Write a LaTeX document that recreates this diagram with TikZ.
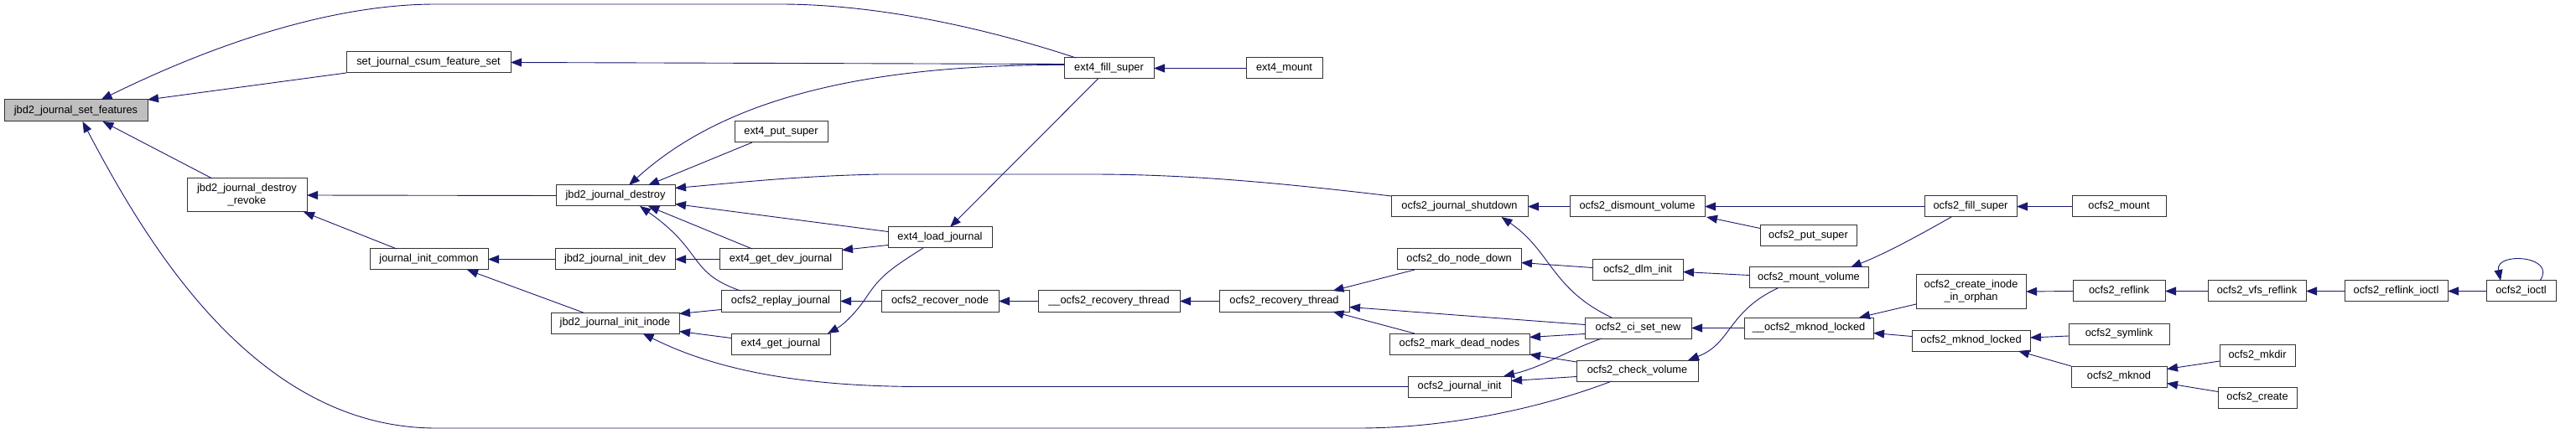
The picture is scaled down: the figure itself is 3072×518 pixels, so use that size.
\documentclass[tikz,border=0pt]{standalone}
\usepackage{fontspec}
\setmainfont{Liberation Sans}
\usetikzlibrary{arrows.meta,calc}
\definecolor{edgec}{HTML}{191970}
\definecolor{nodeborder}{HTML}{333333}
\definecolor{mainfill}{HTML}{BFBFBF}
\tikzset{
  fbox/.style={draw=nodeborder, line width=1pt, fill=white, inner sep=0pt, outer sep=0pt,
    align=center, font=\fontsize{12.8}{15}\selectfont, minimum height=25pt},
  callarrow/.style={draw=edgec, line width=0.9pt, -{Triangle[length=13pt,width=10pt]}}
}
\begin{document}
\begin{tikzpicture}[x=1pt,y=-1pt]
\useasboundingbox (0,0) rectangle (3072,518);
% nodes
\node[fbox, fill=mainfill, minimum width=171pt, minimum height=26pt] (sf) at (90.5,132) {jbd2\_journal\_set\_features};
\node[fbox, minimum width=196pt] (csum) at (511,74.5) {set\_journal\_csum\_feature\_set};
\node[fbox, minimum width=143pt, minimum height=40pt] (rev) at (294.5,233) {jbd2\_journal\_destroy\\\_revoke};
\node[fbox, minimum width=141pt] (jic) at (511.5,309.5) {journal\_init\_common};
\node[fbox, minimum width=142pt] (jd) at (734,233.5) {jbd2\_journal\_destroy};
\node[fbox, minimum width=111pt] (eps) at (931.5,157.5) {ext4\_put\_super};
\node[fbox, minimum width=143pt] (jid) at (733.5,309.5) {jbd2\_journal\_init\_dev};
\node[fbox, minimum width=146pt] (egdj) at (931,309.5) {ext4\_get\_dev\_journal};
\node[fbox, minimum width=142pt] (orj) at (931,359.5) {ocfs2\_replay\_journal};
\node[fbox, minimum width=153pt] (jii) at (733.5,385.5) {jbd2\_journal\_init\_inode};
\node[fbox, minimum width=118pt] (egj) at (931,410.5) {ext4\_get\_journal};
\node[fbox, minimum width=107pt] (efs) at (1322.5,81.5) {ext4\_fill\_super};
\node[fbox, minimum width=91pt] (em) at (1531.5,81.5) {ext4\_mount};
\node[fbox, minimum width=124pt] (elj) at (1121,283.5) {ext4\_load\_journal};
\node[fbox, minimum width=140pt] (orn) at (1121,359.5) {ocfs2\_recover\_node};
\node[fbox, minimum width=169pt] (uort) at (1322.5,359.5) {\_\_ocfs2\_recovery\_thread};
\node[fbox, minimum width=155pt] (ort) at (1531.5,359.5) {ocfs2\_recovery\_thread};
\node[fbox, minimum width=163pt] (ojs) at (1740.5,246.5) {ocfs2\_journal\_shutdown};
\node[fbox, minimum width=161pt] (odv) at (1952.5,246.5) {ocfs2\_dismount\_volume};
\node[fbox, minimum width=148pt] (odnd) at (1740,309.5) {ocfs2\_do\_node\_down};
\node[fbox, minimum width=108pt] (odi) at (1953,322.5) {ocfs2\_dlm\_init};
\node[fbox, minimum width=127pt] (ocsn) at (1953.5,391.5) {ocfs2\_ci\_set\_new};
\node[fbox, minimum width=167pt] (omdn) at (1740.5,410.5) {ocfs2\_mark\_dead\_nodes};
\node[fbox, minimum width=145pt] (ocv) at (1952.5,442.5) {ocfs2\_check\_volume};
\node[fbox, minimum width=123pt] (oji) at (1740.5,461.5) {ocfs2\_journal\_init};
\node[fbox, minimum width=115pt] (ops) at (2156.5,281) {ocfs2\_put\_super};
\node[fbox, minimum width=142pt] (omv) at (2157,331.5) {ocfs2\_mount\_volume};
\node[fbox, minimum width=154pt] (uoml) at (2157,391.5) {\_\_ocfs2\_mknod\_locked};
\node[fbox, minimum width=110pt] (ofs) at (2350,246.5) {ocfs2\_fill\_super};
\node[fbox, minimum width=131pt, minimum height=40pt] (ocio) at (2350.5,348) {ocfs2\_create\_inode\\\_in\_orphan};
\node[fbox, minimum width=141pt] (oml) at (2350.5,406.5) {ocfs2\_mknod\_locked};
\node[fbox, minimum width=112pt] (om) at (2527,246.5) {ocfs2\_mount};
\node[fbox, minimum width=110pt] (orl) at (2527,347.5) {ocfs2\_reflink};
\node[fbox, minimum width=120pt] (osl) at (2527,398.5) {ocfs2\_symlink};
\node[fbox, minimum width=114pt] (omk) at (2527,449.5) {ocfs2\_mknod};
\node[fbox, minimum width=117pt] (ovr) at (2691.5,347.5) {ocfs2\_vfs\_reflink};
\node[fbox, minimum width=123pt] (ori) at (2857.5,347.5) {ocfs2\_reflink\_ioctl};
\node[fbox, minimum width=83pt] (oio) at (3006.5,347.5) {ocfs2\_ioctl};
\node[fbox, minimum width=90pt, minimum height=26pt] (omd) at (2692,424) {ocfs2\_mkdir};
\node[fbox, minimum width=94pt] (ocr) at (2692,474.5) {ocfs2\_create};
% edges (caller -> callee, arrow at callee)
\draw[callarrow] ($(efs.north west)+(14,0)$) .. controls (1180,35) and (1050,5) .. (930,5) -- (520,5) .. controls (380,5) and (230,65) .. ($(sf.north)+(30,0)$);
\draw[callarrow] (csum.south west) -- (sf.north east);
\draw[callarrow] ($(rev.north west)+(30,0)$) -- ($(sf.south)+(32,0)$);
\draw[callarrow] ($(ocv.south west)+(42,0)$) .. controls (1830,490) and (1720,511) .. (1620,511) -- (520,511) .. controls (300,511) and (170,280) .. ($(sf.south)+(8,0)$);
\draw[callarrow] ($(efs.west)+(0,-5)$) -- (csum.east);
\draw[callarrow] (jd.west) -- (rev.east);
\draw[callarrow] ($(jic.north west)+(32,0)$) -- ($(rev.south east)+(-4,0)$);
\draw[callarrow] (jid.west) -- (jic.east);
\draw[callarrow] ($(jii.north)+(-38,0)$) -- ($(jic.south west)+(116,0)$);
\draw[callarrow] ($(efs.west)+(0,-4)$) .. controls (1000,77) and (850,130) .. ($(jd.north)+(16,0)$);
\draw[callarrow] ($(eps.south west)+(21,0)$) -- ($(jd.north)+(39,0)$);
\draw[callarrow] (ojs.north west) .. controls (1500,215) and (1400,208) .. (1300,208) -- (1050,208) .. controls (950,210) and (880,218) .. ($(jd.east)+(0,-9)$);
\draw[callarrow] ($(elj.west)+(0,-7)$) -- ($(jd.east)+(0,10)$);
\draw[callarrow] ($(egdj.north west)+(39,0)$) -- ($(jd.south)+(39,0)$);
\draw[callarrow] ($(orj.north west)+(23,0)$) .. controls (820,325) and (840,300) .. ($(jd.south)+(29,0)$);
\draw[callarrow] (egdj.west) -- (jid.east);
\draw[callarrow] ($(orj.west)+(0,10)$) -- ($(jii.east)+(0,-11)$);
\draw[callarrow] ($(egj.west)+(0,-7)$) -- ($(jii.east)+(0,10)$);
\draw[callarrow] (oji.west) -- (1100,461.5) .. controls (950,461.5) and (850,440) .. ($(jii.south)+(33,0)$);
\draw[callarrow] ($(elj.west)+(0,9)$) -- ($(egdj.east)+(0,-11)$);
\draw[callarrow] ($(elj.south west)+(42,0)$) .. controls (1060,322) and (1050,330) .. (1035,352) .. controls (1020,375) and (1005,388) .. ($(egj.north east)+(-3,0)$);
\draw[callarrow] (orn.west) -- (orj.east);
\draw[callarrow] ($(efs.south)+(-13,0)$) -- ($(elj.north)+(12,0)$);
\draw[callarrow] (em.west) -- (efs.east);
\draw[callarrow] (uort.west) -- (orn.east);
\draw[callarrow] (ort.west) -- (uort.east);
\draw[callarrow] ($(odnd.south west)+(21,0)$) -- ($(ort.north)+(58,0)$);
\draw[callarrow] ($(ocsn.west)+(0,-4)$) -- ($(ort.east)+(0,7)$);
\draw[callarrow] ($(omdn.north west)+(30,0)$) -- ($(ort.south)+(58,0)$);
\draw[callarrow] (odv.west) -- (ojs.east);
\draw[callarrow] ($(ocsn.north west)+(32,0)$) .. controls (1850,345) and (1850,300) .. ($(ojs.south)+(50,0)$);
\draw[callarrow] ($(odi.west)+(0,-3)$) -- ($(odnd.east)+(0,4)$);
\draw[callarrow] ($(ocsn.west)+(0,7)$) -- ($(omdn.east)+(0,-8)$);
\draw[callarrow] ($(ocv.north west)+(0,2)$) -- (omdn.south east);
\draw[callarrow] ($(ocsn.south west)+(20,0)$) .. controls (1870,418) and (1840,438) .. ($(oji.north east)+(-9,0)$);
\draw[callarrow] ($(ocv.west)+(0,7)$) -- ($(oji.east)+(0,-7)$);
\draw[callarrow] (ofs.west) -- (odv.east);
\draw[callarrow] ($(ops.north west)+(0,4)$) -- ($(odv.south east)+(2,0)$);
\draw[callarrow] ($(omv.west)+(0,-3)$) -- ($(odi.east)+(0,2)$);
\draw[callarrow] (uoml.west) -- (ocsn.east);
\draw[callarrow] ($(omv.south west)+(34,0)$) .. controls (2060,372) and (2065,410) .. ($(ocv.north east)+(-12,0)$);
\draw[callarrow] ($(ofs.south west)+(32,0)$) .. controls (2290,280) and (2250,302) .. ($(omv.north)+(50,0)$);
\draw[callarrow] (om.west) -- (ofs.east);
\draw[callarrow] ($(ocio.west)+(0,15)$) -- ($(uoml.north east)+(-17,0)$);
\draw[callarrow] ($(oml.west)+(0,-5)$) -- ($(uoml.east)+(0,6)$);
\draw[callarrow] (orl.west) -- (ocio.east);
\draw[callarrow] ($(osl.west)+(0,2.5)$) -- ($(oml.east)+(0,-3.5)$);
\draw[callarrow] (omk.north west) -- ($(oml.south east)+(-14,0)$);
\draw[callarrow] (ovr.west) -- (orl.east);
\draw[callarrow] (ori.west) -- (ovr.east);
\draw[callarrow] (oio.west) -- (ori.east);
\draw[callarrow] ($(oio.north east)+(-19,0)$) .. controls (3050,305) and (2975,300) .. ($(oio.north west)+(17,0)$);
\draw[callarrow] ($(omd.west)+(0,7)$) -- ($(omk.east)+(0,-9)$);
\draw[callarrow] ($(ocr.west)+(0,-7)$) -- ($(omk.east)+(0,8)$);
\end{tikzpicture}
\end{document}
